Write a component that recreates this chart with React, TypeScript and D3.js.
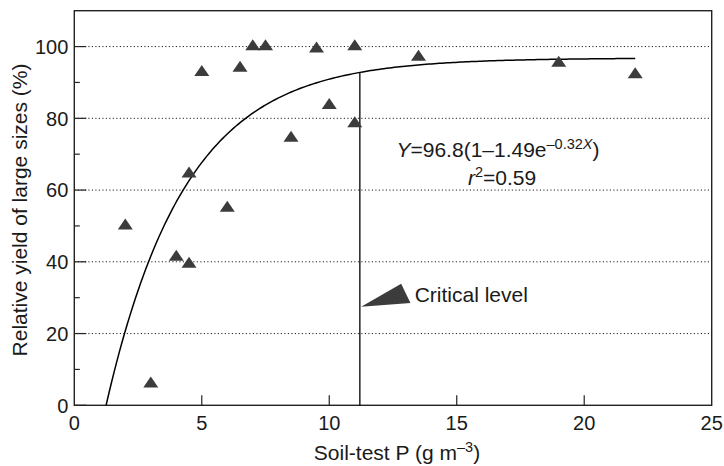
import React from "react";
import * as d3 from "d3";

const soilP = [2, 3, 4, 4.5, 4.5, 5, 6, 6.5, 7, 7.5, 8.5, 9.5, 10, 11, 11, 13.5, 19, 22];
const relYield = [50, 6, 41.3, 39.4, 64.5, 92.8, 55, 94, 100, 100, 74.5, 99.4, 83.6, 100, 78.5, 97.1, 95.4, 92.2];

const xTicks = [0, 5, 10, 15, 20, 25];
const yTicks = [0, 20, 40, 60, 80, 100];
const yMinorTicks = [10, 30, 50, 70, 90];

const fitA = 96.8;
const fitB = 1.49;
const fitC = 0.32;
const fitXMax = 22;
const criticalX = 11.2;
const arrowY = 27.5;

const W = 724;
const H = 466;
const M = { left: 74.3, right: 711.7, top: 10.7, bottom: 405.3 };

const FONT = "'Liberation Sans', Arial, Helvetica, sans-serif";

export default function App() {
  const x = d3.scaleLinear().domain([0, 25]).range([M.left, M.right]);
  const y = d3.scaleLinear().domain([0, 110]).range([M.bottom, M.top]);

  const fit = (v: number) => fitA * (1 - fitB * Math.exp(-fitC * v));
  const x0 = Math.log(fitB) / fitC;
  const curvePts: [number, number][] = d3
    .range(0, 201)
    .map((i) => x0 + ((fitXMax - x0) * i) / 200)
    .map((v) => [v, fit(v)]);
  const line = d3
    .line<[number, number]>()
    .x((d) => x(d[0]))
    .y((d) => y(d[1]));

  const tri = (cx: number, cy: number) => {
    const w = 15, h = 11;
    return `M${cx},${cy - (2 * h) / 3} L${cx + w / 2},${cy + h / 3} L${cx - w / 2},${cy + h / 3} Z`;
  };

  const tipX = x(criticalX) + 1.3;
  const tipY = y(arrowY);

  return (
    <svg
      width={W}
      height={H}
      style={{ position: "absolute", left: 0, top: 0, background: "#fff" }}
      fontFamily={FONT}
    >
      <rect x={0} y={0} width={W} height={H} fill="#fff" />
      {/* grid */}
      {yTicks.filter((t) => t > 0).map((t) => (
        <line
          key={"g" + t}
          x1={M.left}
          x2={M.right}
          y1={y(t)}
          y2={y(t)}
          stroke="#222"
          strokeWidth={1}
          strokeDasharray="1.2,2.3"
        />
      ))}
      {/* y ticks */}
      {yTicks.map((t) => (
        <g key={"yt" + t}>
          <line x1={M.left} x2={M.left + 12} y1={y(t)} y2={y(t)} stroke="#222" strokeWidth={1.2} />
          <text x={M.left - 6} y={y(t)} dy="0.36em" textAnchor="end" fontSize={20} fill="#1a1a1a">
            {t}
          </text>
        </g>
      ))}
      {yMinorTicks.map((t) => (
        <line key={"ym" + t} x1={M.left} x2={M.left + 5.5} y1={y(t)} y2={y(t)} stroke="#222" strokeWidth={1.2} />
      ))}
      {/* x ticks */}
      {xTicks.map((t) => (
        <g key={"xt" + t}>
          {t > 0 && t < 25 && (
            <line x1={x(t)} x2={x(t)} y1={M.bottom} y2={M.bottom - 10} stroke="#222" strokeWidth={1.2} />
          )}
          <text x={x(t)} y={430} textAnchor="middle" fontSize={20} fill="#1a1a1a">
            {t}
          </text>
        </g>
      ))}
      {/* frame */}
      <rect
        x={M.left}
        y={M.top}
        width={M.right - M.left}
        height={M.bottom - M.top}
        fill="none"
        stroke="#222"
        strokeWidth={1.4}
      />
      {/* fit curve */}
      <path d={line(curvePts) || ""} fill="none" stroke="#000" strokeWidth={1.5} />
      {/* critical level line */}
      <line
        x1={x(criticalX)}
        x2={x(criticalX)}
        y1={y(0)}
        y2={y(fit(criticalX))}
        stroke="#000"
        strokeWidth={1.3}
      />
      {/* points */}
      {soilP.map((p, i) => (
        <path key={"p" + i} d={tri(x(p), y(relYield[i]))} fill="#3c3c3c" />
      ))}
      {/* arrow */}
      <path
        d={`M${tipX},${tipY} L${tipX + 40},${tipY - 23} L${tipX + 49.3},${tipY - 3.6} Z`}
        fill="#3c3c3c"
      />
      <text x={tipX + 53.5} y={tipY - 4.6} fontSize={21} fill="#1a1a1a">
        Critical level
      </text>
      {/* equation */}
      <text x={498} y={157} textAnchor="middle" fontSize={21} fill="#1a1a1a">
        <tspan fontStyle="italic">Y</tspan>
        <tspan>=96.8(1–1.49e</tspan>
        <tspan fontSize={14.5} dy={-8}>–0.32</tspan>
        <tspan fontSize={14.5} fontStyle="italic">X</tspan>
        <tspan dy={8}>)</tspan>
      </text>
      <text x={502} y={185} textAnchor="middle" fontSize={21} fill="#1a1a1a">
        <tspan fontStyle="italic">r</tspan>
        <tspan fontSize={14.5} dy={-8}>2</tspan>
        <tspan dy={8}>=0.59</tspan>
      </text>
      {/* axis labels */}
      <text x={(M.left + M.right) / 2 + 4} y={460} textAnchor="middle" fontSize={21} fill="#1a1a1a">
        Soil-test P (g m
        <tspan fontSize={14.5} dy={-8}>–3</tspan>
        <tspan dy={8}>)</tspan>
      </text>
      <text
        transform={`translate(27,${(M.top + M.bottom) / 2 + 2}) rotate(-90)`}
        textAnchor="middle"
        fontSize={21}
        fill="#1a1a1a"
      >
        Relative yield of large sizes (%)
      </text>
    </svg>
  );
}
